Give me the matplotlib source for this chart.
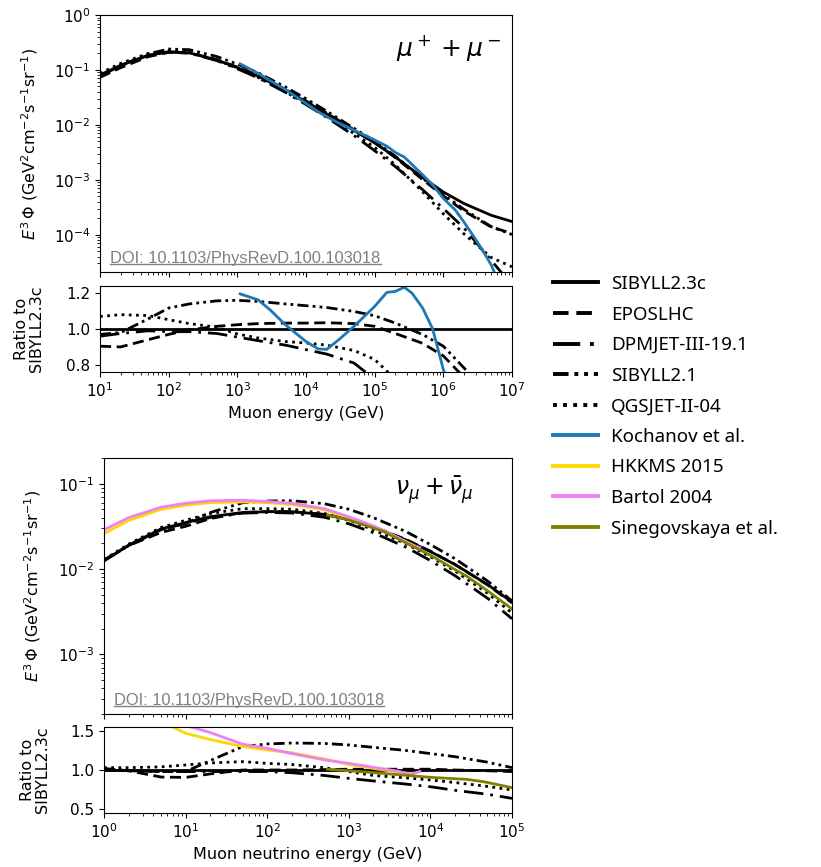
import numpy as np
import matplotlib
matplotlib.use('Agg')
import matplotlib.pyplot as plt
from matplotlib.lines import Line2D

# ---------------- muon panel data ----------------
muon_E = [10, 20, 50, 100, 200, 500, 1e3, 2e3, 5e3, 1e4, 2e4, 5e4, 1e5, 2e5, 5e5,
          1e6, 2e6, 5e6, 1e7]
muon_sibyll23c = [0.081, 0.122, 0.185, 0.215, 0.205, 0.152, 0.11, 0.077, 0.043, 0.0265,
                  0.0159, 0.0079, 0.0047, 0.0026, 0.0011, 6.0e-4, 3.7e-4, 2.26e-4, 1.74e-4]
muon_ratio_eposlhc = [0.904, 0.90, 0.94, 0.97, 0.995, 1.015, 1.024, 1.03, 1.033, 1.033,
                      1.035, 1.03, 1.015, 0.975, 0.92, 0.85, 0.73, 0.61, 0.61]
muon_ratio_dpmjet = [0.96, 0.975, 0.99, 0.985, 0.985, 0.975, 0.955, 0.935, 0.91, 0.885,
                     0.86, 0.81, 0.72, 0.67, 0.6, 0.5, 0.36, 0.15, 0.07]
muon_ratio_sibyll21 = [0.97, 0.98, 1.056, 1.117, 1.14, 1.157, 1.16, 1.154, 1.14, 1.13,
                       1.12, 1.098, 1.074, 1.033, 0.969, 0.904, 0.783, 0.62, 0.58]
muon_ratio_qgsjet = [1.07, 1.08, 1.075, 1.052, 1.03, 1.01, 0.972, 0.95, 0.93, 0.922,
                     0.91, 0.88, 0.83, 0.72, 0.55, 0.4, 0.28, 0.17, 0.15]

kochanov_E = [1.1e3, 2e3, 3e3, 5e3, 1e4, 1.5e4, 2e4, 3e4, 5e4, 1e5, 1.5e5, 2e5, 2.7e5,
              3.5e5, 5e5, 7e5, 1e6, 1.5e6, 2e6, 3e6, 4e6, 5e6, 5.5e6]
kochanov_flux = [0.129, 0.087, 0.064, 0.044, 0.0246, 0.0173, 0.0141, 0.0108, 0.0080,
                 0.0053, 0.0041, 0.00315, 0.0026, 0.0019, 0.00123, 8.1e-4, 4.6e-4,
                 2.8e-4, 1.7e-4, 8e-5, 4.5e-5, 2.8e-5, 2.1e-5]
kochanov_ratio = [1.196, 1.163, 1.107, 1.024, 0.93, 0.889, 0.886, 0.94, 1.015, 1.126,
                  1.204, 1.21, 1.233, 1.2, 1.117, 1.0, 0.774, 0.6, 0.45, 0.28, 0.17,
                  0.11, 0.09]

# ---------------- neutrino panel data ----------------
nu_E = [1, 2, 5, 10, 20, 50, 100, 200, 500, 1e3, 2e3, 5e3, 1e4, 2e4, 5e4, 1e5]
nu_sibyll23c = [0.0125, 0.019, 0.0295, 0.035, 0.041, 0.046, 0.047, 0.047, 0.0435, 0.038,
                0.031, 0.022, 0.016, 0.0113, 0.0066, 0.0041]
nu_ratio_eposlhc = [1.02, 0.99, 0.91, 0.905, 0.95, 1.0, 1.0, 1.0, 1.005, 1.01, 1.01, 1.01,
                    1.01, 1.0, 0.99, 0.98]
nu_ratio_dpmjet = [1.0, 0.99, 0.98, 0.98, 0.98, 0.98, 0.98, 0.965, 0.93, 0.893, 0.86,
                   0.82, 0.786, 0.74, 0.69, 0.637]
nu_ratio_sibyll21 = [1.01, 0.99, 0.98, 0.98, 1.12, 1.30, 1.333, 1.345, 1.34, 1.32, 1.29,
                     1.25, 1.21, 1.17, 1.1, 1.03]
nu_ratio_qgsjet = [1.03, 1.03, 1.04, 1.064, 1.09, 1.107, 1.085, 1.07, 1.03, 0.98, 0.93,
                   0.9, 0.872, 0.84, 0.79, 0.744]

hkkms_E = [1, 2, 5, 10, 20, 50, 100, 200, 500, 1e3, 2e3, 5e3, 6.2e3]
hkkms_flux = [0.026, 0.037, 0.050, 0.056, 0.060, 0.061, 0.060, 0.057, 0.0495, 0.040,
              0.0315, 0.021, 0.019]
hkkms_ratio = [2.1, 1.92, 1.62, 1.47, 1.39, 1.30, 1.256, 1.22, 1.14, 1.07, 1.02, 0.96, 0.95]

bartol_E = [1, 2, 5, 10, 20, 50, 100, 200, 500, 1e3, 2e3, 4e3, 5.6e3, 7.4e3]
bartol_flux = [0.0288, 0.040, 0.053, 0.059, 0.063, 0.064, 0.062, 0.059, 0.051, 0.041,
               0.032, 0.0235, 0.0195, 0.0178]
bartol_ratio = [2.3, 2.1, 1.8, 1.57, 1.48, 1.33, 1.278, 1.21, 1.13, 1.085, 1.035, 0.985,
                0.944, 0.98]

sineg_E = [550, 1e3, 2.6e3, 1e4, 2.8e4, 4.5e4, 1e5]
sineg_flux = [0.043, 0.0376, 0.0278, 0.0145, 0.0082, 0.006, 0.0034]
sineg_ratio = [1.01, 0.99, 0.957, 0.906, 0.88, 0.85, 0.774]

labels = ['SIBYLL2.3c', 'EPOSLHC', 'DPMJET-III-19.1', 'SIBYLL2.1', 'QGSJET-II-04',
          'Kochanov et al.', 'HKKMS 2015', 'Bartol 2004', 'Sinegovskaya et al.']

# ---------------- styles ----------------
LW = 2.0
sty = {
    'sib23': dict(color='black', lw=LW, ls='-'),
    'epos': dict(color='black', lw=LW, ls=(0, (4, 2))),
    'dpm': dict(color='black', lw=LW, ls=(0, (7, 2.5, 1, 2.5))),
    'sib21': dict(color='black', lw=LW, ls=(0, (4, 1.5, 1, 1.5, 1, 1.5))),
    'qgs': dict(color='black', lw=LW, ls=(0, (1, 1.6))),
    'koch': dict(color='#1f77b4', lw=LW, ls='-'),
    'hkkms': dict(color='#ffd700', lw=LW, ls='-'),
    'bartol': dict(color='violet', lw=LW, ls='-'),
    'sineg': dict(color='olive', lw=LW, ls='-'),
}

TICK_FS = 11
LAB_FS = 11.5
plt.rcParams['font.family'] = ['DejaVu Sans']
plt.rcParams['mathtext.fontset'] = 'dejavusans'

fig = plt.figure(figsize=(8.21, 8.67), dpi=100)
W, H = 821.0, 867.0


def add_ax(l, r, t, b):
    return fig.add_axes([l / W, 1 - b / H, (r - l) / W, (b - t) / H])


ax1 = add_ax(100, 512, 15, 272)
ax1r = add_ax(100, 512, 286, 372)
ax2 = add_ax(104, 512, 458, 714)
ax2r = add_ax(104, 512, 727, 813)

# ---- muon main ----
mE = np.array(muon_E)
msib = np.array(muon_sibyll23c)
ax1.plot(mE, msib, **sty['sib23'])
ax1.plot(mE, msib * np.array(muon_ratio_eposlhc), **sty['epos'])
ax1.plot(mE, msib * np.array(muon_ratio_dpmjet), **sty['dpm'])
ax1.plot(mE, msib * np.array(muon_ratio_sibyll21), **sty['sib21'])
ax1.plot(mE, msib * np.array(muon_ratio_qgsjet), **sty['qgs'])
ax1.plot(kochanov_E, kochanov_flux, **sty['koch'])
ax1.set_xscale('log')
ax1.set_yscale('log')
ax1.set_xlim(10, 1e7)
ax1.set_ylim(2.1e-5, 1)
ax1.tick_params(labelbottom=False, labelsize=TICK_FS)
ax1.set_ylabel(r'$E^3\,\Phi$ (GeV$^2$cm$^{-2}$s$^{-1}$sr$^{-1}$)', fontsize=LAB_FS)
ax1.yaxis.set_label_coords(-0.145, 0.5)
ax1.text(0.975, 0.93, r'$\mu^+ + \mu^-$', transform=ax1.transAxes, ha='right', va='top',
         fontsize=18)

# ---- muon ratio ----
ax1r.plot(mE, msib / msib, **sty['sib23'])
ax1r.plot(mE, muon_ratio_eposlhc, **sty['epos'])
ax1r.plot(mE, muon_ratio_dpmjet, **sty['dpm'])
ax1r.plot(mE, muon_ratio_sibyll21, **sty['sib21'])
ax1r.plot(mE, muon_ratio_qgsjet, **sty['qgs'])
ax1r.plot(kochanov_E, kochanov_ratio, **sty['koch'])
ax1r.set_xscale('log')
ax1r.set_xlim(10, 1e7)
ax1r.set_ylim(0.76, 1.24)
ax1r.set_yticks([0.8, 1.0, 1.2])
ax1r.tick_params(labelsize=TICK_FS)
ax1r.set_ylabel('Ratio to\nSIBYLL2.3c', fontsize=LAB_FS, linespacing=1.0)
ax1r.yaxis.set_label_coords(-0.137, 0.5)
ax1r.set_xlabel('Muon energy (GeV)', fontsize=LAB_FS)

# ---- neutrino main ----
nE = np.array(nu_E)
nsib = np.array(nu_sibyll23c)
ax2.plot(nE, nsib, **sty['sib23'])
ax2.plot(nE, nsib * np.array(nu_ratio_eposlhc), **sty['epos'])
ax2.plot(nE, nsib * np.array(nu_ratio_dpmjet), **sty['dpm'])
ax2.plot(nE, nsib * np.array(nu_ratio_sibyll21), **sty['sib21'])
ax2.plot(nE, nsib * np.array(nu_ratio_qgsjet), **sty['qgs'])
ax2.plot(hkkms_E, hkkms_flux, **sty['hkkms'])
ax2.plot(bartol_E, bartol_flux, **sty['bartol'])
ax2.plot(sineg_E, sineg_flux, **sty['sineg'])
ax2.set_xscale('log')
ax2.set_yscale('log')
ax2.set_xlim(1, 1e5)
ax2.set_ylim(2e-4, 0.2)
ax2.tick_params(labelbottom=False, labelsize=TICK_FS)
ax2.set_ylabel(r'$E^3\,\Phi$ (GeV$^2$cm$^{-2}$s$^{-1}$sr$^{-1}$)', fontsize=LAB_FS)
ax2.yaxis.set_label_coords(-0.15, 0.5)
ax2.text(0.905, 0.935, r'$\nu_\mu + \bar{\nu}_\mu$', transform=ax2.transAxes, ha='right',
         va='top', fontsize=17)

# ---- neutrino ratio ----
ax2r.plot(nE, nsib / nsib, **sty['sib23'])
ax2r.plot(nE, nu_ratio_eposlhc, **sty['epos'])
ax2r.plot(nE, nu_ratio_dpmjet, **sty['dpm'])
ax2r.plot(nE, nu_ratio_sibyll21, **sty['sib21'])
ax2r.plot(nE, nu_ratio_qgsjet, **sty['qgs'])
ax2r.plot(hkkms_E, hkkms_ratio, **sty['hkkms'])
ax2r.plot(bartol_E, bartol_ratio, **sty['bartol'])
ax2r.plot(sineg_E, sineg_ratio, **sty['sineg'])
ax2r.set_xscale('log')
ax2r.set_xlim(1, 1e5)
ax2r.set_ylim(0.45, 1.55)
ax2r.set_yticks([0.5, 1.0, 1.5])
ax2r.tick_params(labelsize=TICK_FS)
ax2r.set_ylabel('Ratio to\nSIBYLL2.3c', fontsize=LAB_FS, linespacing=1.0)
ax2r.yaxis.set_label_coords(-0.132, 0.5)
ax2r.set_xlabel('Muon neutrino energy (GeV)', fontsize=LAB_FS)

# ---- DOI stamps ----
doi_texts = []
for ax in (ax1, ax2):
    t = ax.text(0.025, 0.025, 'DOI: 10.1103/PhysRevD.100.103018', transform=ax.transAxes,
                ha='left', va='bottom', fontsize=11.9, color='#808080',
                family=['Liberation Sans', 'DejaVu Sans'])
    doi_texts.append(t)

# ---- legend ----
handle_keys = ['sib23', 'epos', 'dpm', 'sib21', 'qgs', 'koch', 'hkkms', 'bartol', 'sineg']
handles = [Line2D([], [], **{**sty[k], 'lw': 2.8}) for k in handle_keys]
fig.legend(handles, labels, loc='upper left', bbox_to_anchor=(553 / W, 1 - 275 / H),
           frameon=False, handlelength=2.4, handletextpad=0.7,
           labelspacing=0.67, borderpad=0, borderaxespad=0,
           prop={'family': ['Noto Sans', 'DejaVu Sans'], 'size': 13.5})

# underline DOI
fig.canvas.draw()
renderer = fig.canvas.get_renderer()
for t in doi_texts:
    bb = t.get_window_extent(renderer)
    y = bb.y0 + 1.5
    fig.add_artist(Line2D([bb.x0 / W, bb.x1 / W], [y / H, y / H], color='#808080', lw=1.0,
                          transform=fig.transFigure))

fig.savefig('out.png', dpi=100)
